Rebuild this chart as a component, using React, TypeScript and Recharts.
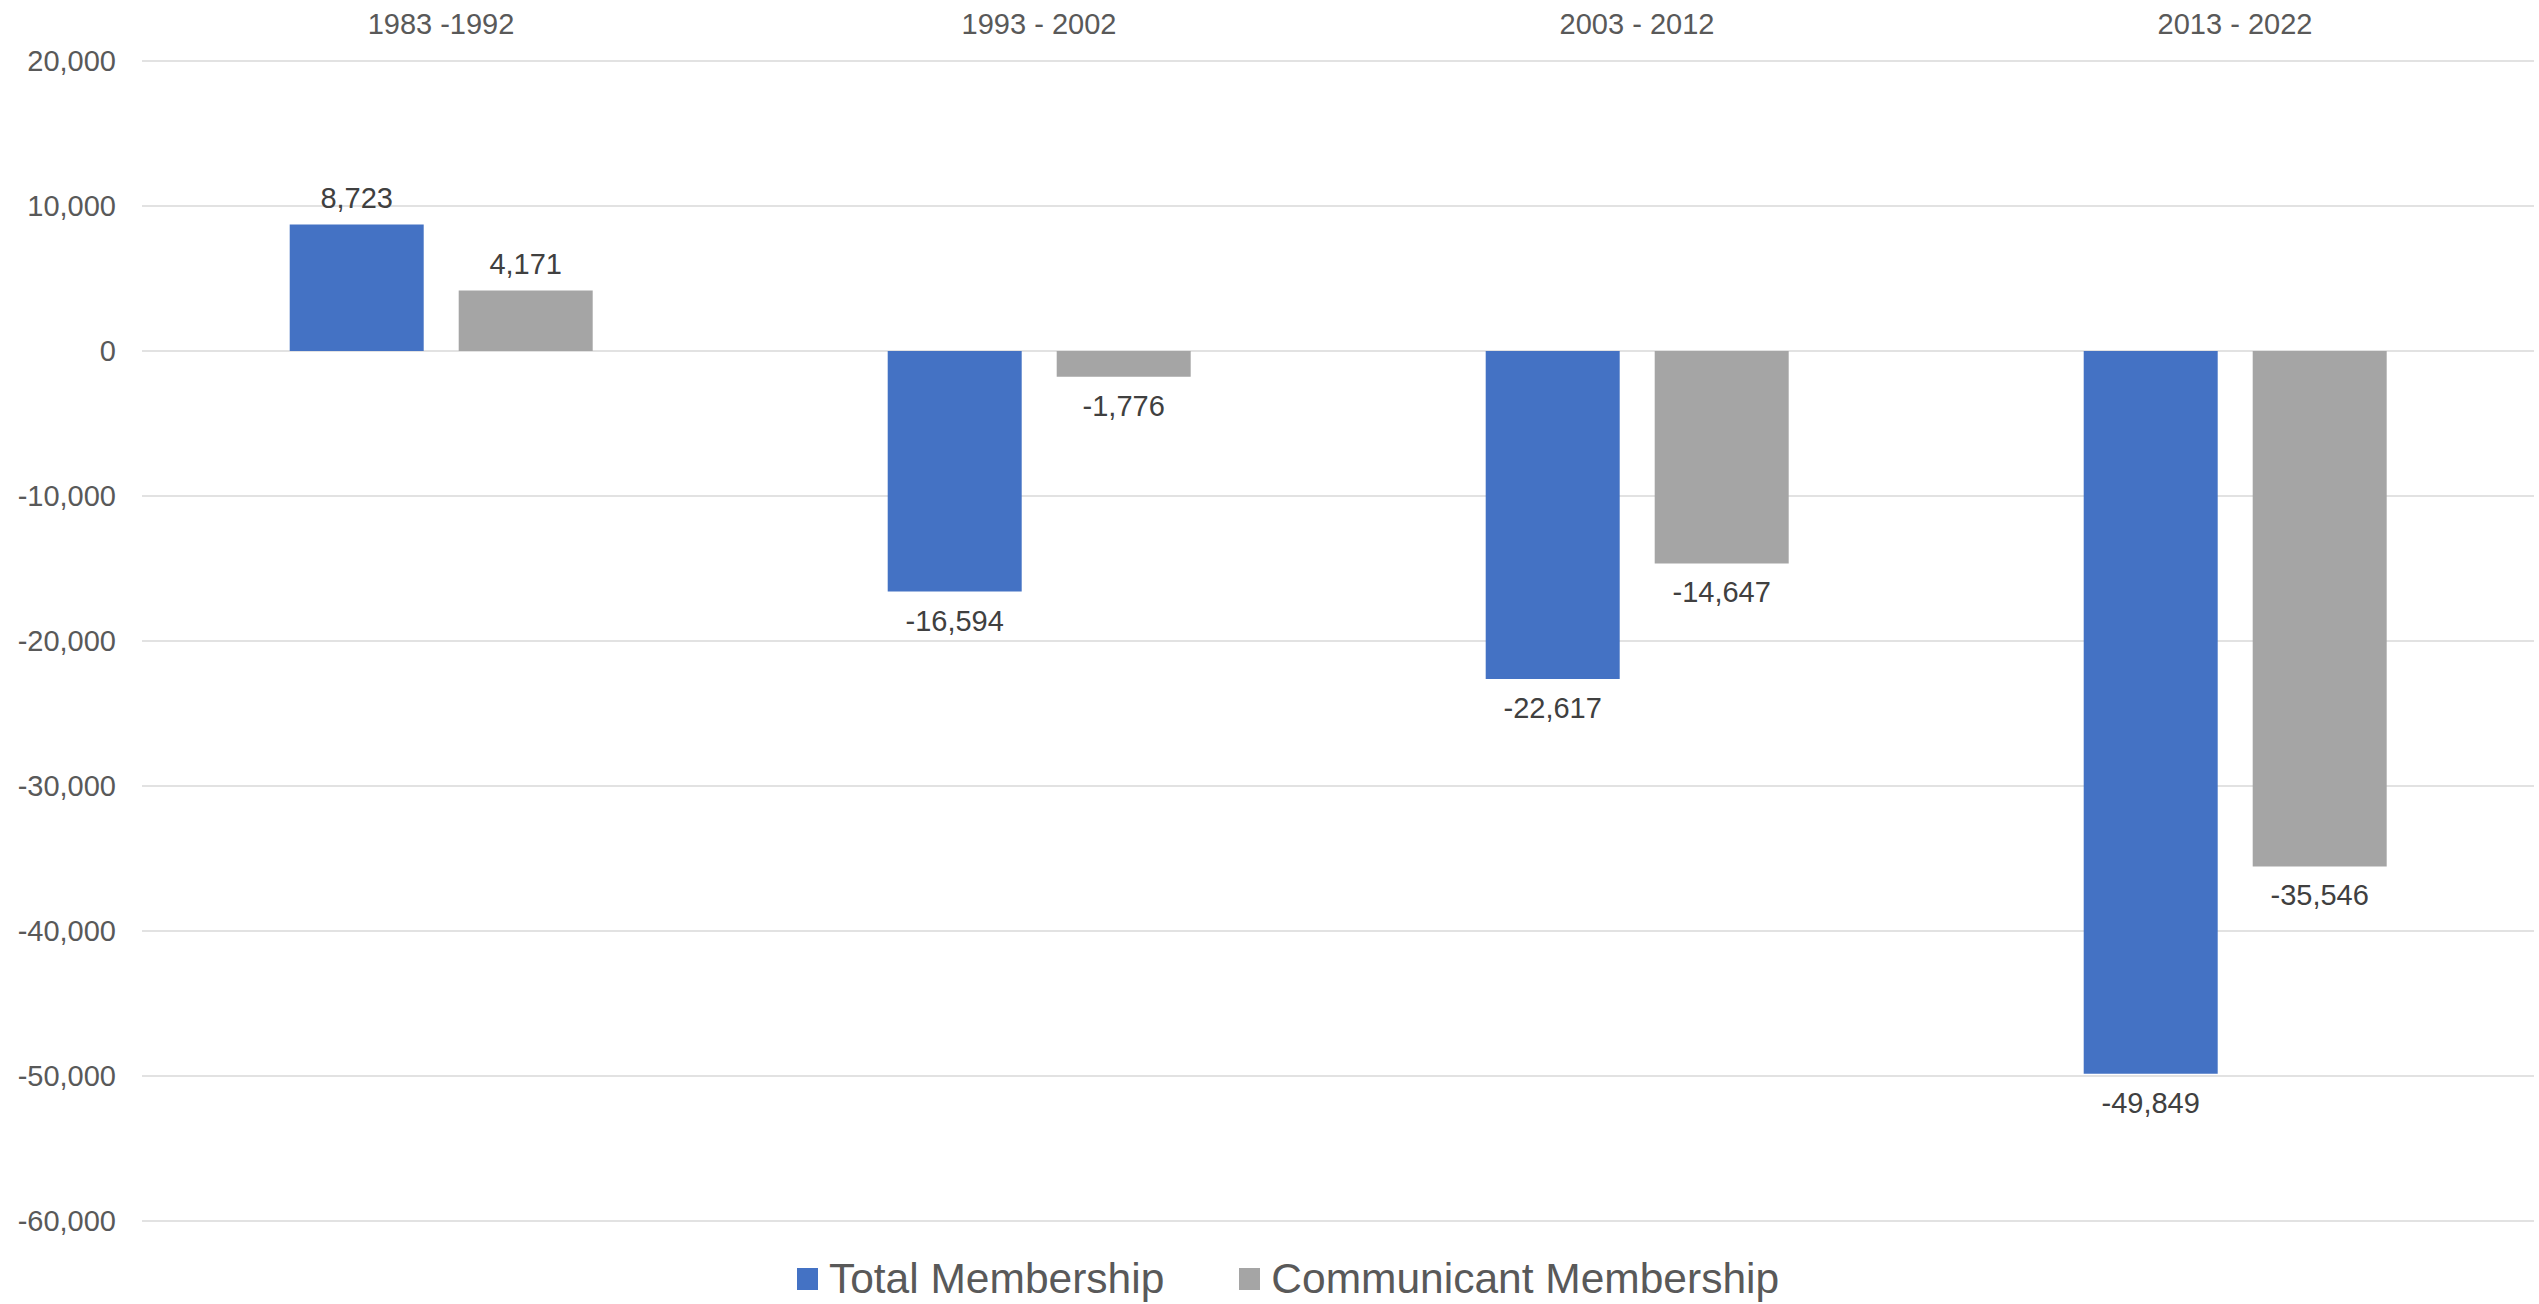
import { Bar, BarChart, CartesianGrid, LabelList, Legend, XAxis, YAxis } from 'recharts';

// 各时期的会员人数变化
const periods = ['1983 -1992', '1993 - 2002', '2003 - 2012', '2013 - 2022'];
const totalMembership = [8723, -16594, -22617, -49849];
const communicantMembership = [4171, -1776, -14647, -35546];
const yTicks = [20000, 10000, 0, -10000, -20000, -30000, -40000, -50000, -60000];

const series = [
  { dataKey: 'total', name: 'Total Membership', color: '#4472C4' },
  { dataKey: 'communicant', name: 'Communicant Membership', color: '#A5A5A5' },
];

const data = periods.map((period, i) => ({
  period,
  total: totalMembership[i],
  communicant: communicantMembership[i],
}));

const FONT = '"Liberation Sans", Arial, sans-serif';
const fmt = (v: number) => v.toLocaleString('en-US');

// 正值标签在柱顶上方，负值标签在柱底下方
const ValueLabel = (props: any) => {
  const { x, y, width, height, value } = props;
  const top = Math.min(y, y + height);
  const bottom = Math.max(y, y + height);
  const neg = Number(value) < 0;
  return (
    <text
      x={x + width / 2}
      y={neg ? bottom + 29 : top - 27}
      textAnchor="middle"
      dominantBaseline="central"
      fill="#404040"
      fontSize={29}
      fontFamily={FONT}
    >
      {fmt(Number(value))}
    </text>
  );
};

const LegendContent = () => (
  <div
    style={{
      height: 83,
      display: 'flex',
      alignItems: 'flex-end',
      justifyContent: 'center',
      paddingLeft: 42,
      boxSizing: 'border-box',
      paddingBottom: 1,
      fontFamily: FONT,
      fontSize: 42.5,
      color: '#595959',
    }}
  >
    {series.map((s, i) => (
      <div
        key={s.dataKey}
        style={{ display: 'flex', alignItems: 'center', marginLeft: i === 0 ? 0 : 75 }}
      >
        <span style={{ width: 21, height: 22, background: s.color, marginRight: 11, display: 'inline-block' }} />
        <span>{s.name}</span>
      </div>
    ))}
  </div>
);

export default function App() {
  return (
    <div style={{ position: 'absolute', left: 0, top: 0, width: 2539, height: 1304, background: '#fff' }}>
      <BarChart
        width={2539}
        height={1304}
        data={data}
        margin={{ top: 0, right: 5, left: 0, bottom: 0 }}
        barCategoryGap="24.7%"
        barGap={35}
      >
        <CartesianGrid vertical={false} stroke="#D9D9D9" strokeWidth={1.5} />
        <XAxis
          dataKey="period"
          orientation="top"
          height={61}
          axisLine={false}
          tickLine={false}
          tickMargin={21}
          tick={{ fill: '#595959', fontSize: 29, fontFamily: FONT }}
        />
        <YAxis
          width={142}
          domain={[-60000, 20000]}
          ticks={yTicks}
          axisLine={false}
          tickLine={false}
          tickMargin={20}
          tickFormatter={fmt}
          tick={{ fill: '#595959', fontSize: 29, fontFamily: FONT }}
        />
        <Legend verticalAlign="bottom" content={<LegendContent />} />
        {series.map(s => (
          <Bar key={s.dataKey} dataKey={s.dataKey} name={s.name} fill={s.color} isAnimationActive={false}>
            <LabelList dataKey={s.dataKey} content={<ValueLabel />} />
          </Bar>
        ))}
      </BarChart>
    </div>
  );
}
